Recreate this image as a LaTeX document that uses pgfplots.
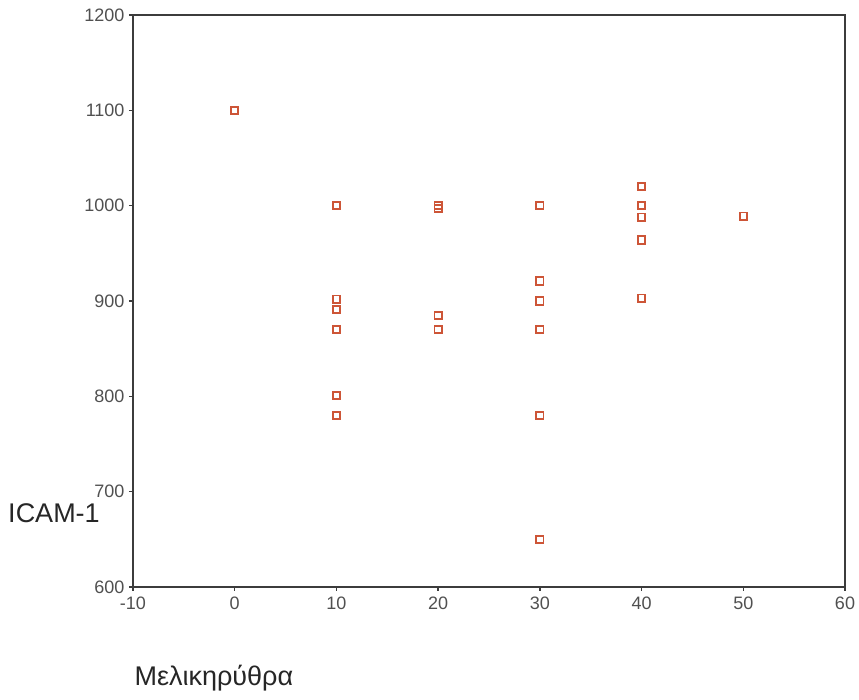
\documentclass[border=0pt]{standalone}
\usepackage{pgfplots}
\pgfplotsset{compat=1.18}
\usepackage{fontspec}
\setmainfont{Liberation Sans}
\definecolor{mk}{RGB}{205,85,55}
\definecolor{ax}{RGB}{60,60,60}
\definecolor{tl}{RGB}{80,80,80}
\begin{document}
\begin{tikzpicture}
\path (-133pt,-113pt) rectangle (726pt,587pt);
\begin{axis}[
  scale only axis, width=712pt, height=572pt,
  at={(0,0)}, anchor=south west,
  xmin=-10, xmax=60, ymin=600, ymax=1200,
  xtick={-10,0,10,20,30,40,50,60},
  xticklabels={-10,0,10,20,30,40,50,60},
  ytick={600,700,800,900,1000,1100,1200},
  yticklabels={600,700,800,900,1000,1100,1200},
  xtick pos=left, ytick pos=left,
  tick align=outside, major tick length=4pt,
  tick style={ax, line width=1.5pt},
  axis line style={ax, line width=1.2pt},
  ticklabel style={font=\fontsize{18}{20}\selectfont, text=tl},
  xticklabel style={yshift=-2pt},
  yticklabel style={xshift=-1pt},
  clip=false,
]
\addplot[only marks, mark=square, mark size=3.6pt, mark options={draw=mk, line width=1.9pt}] coordinates {
(0,1100)
(10,1000) (10,902) (10,891) (10,870) (10,801) (10,780)
(20,1000) (20,997) (20,885) (20,870)
(30,1000) (30,921) (30,900) (30,870) (30,780) (30,650)
(40,1020) (40,1000) (40,988) (40,964) (40,903)
(50,989)
};
\end{axis}
\node[font=\fontsize{27}{30}\selectfont, text=black!85] at (-79pt,74pt) {ICAM-1};
\node[font=\fontsize{27}{30}\selectfont, text=black!85, anchor=west] at (-2pt,-91pt) {Μελικηρύθρα};
\end{tikzpicture}
\end{document}
